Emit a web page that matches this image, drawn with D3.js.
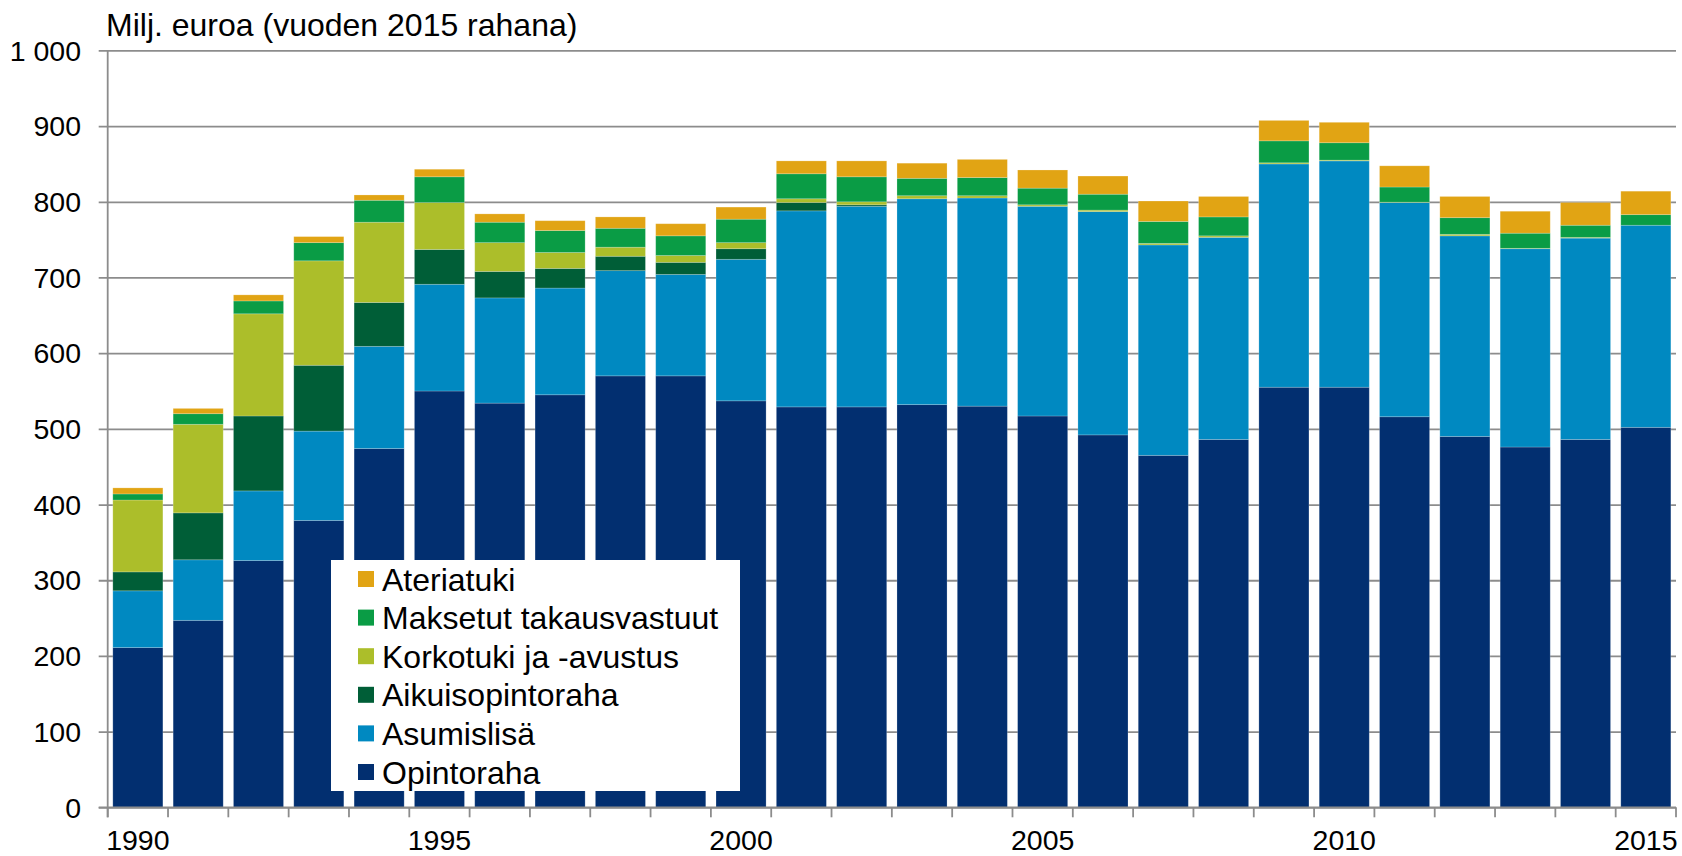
<!DOCTYPE html>
<html>
<head>
<meta charset="utf-8">
<script src="https://cdn.jsdelivr.net/npm/d3@7"></script>
<style>
  html, body { margin: 0; padding: 0; background: #fff; }
  svg { display: block; }
  text { font-family: "Liberation Sans", Arial, sans-serif; fill: #000; }
</style>
</head>
<body>
<svg id="chart" width="1682" height="856"></svg>
<script>
// ---- Data ----
const years = [1990,1991,1992,1993,1994,1995,1996,1997,1998,1999,2000,2001,2002,2003,2004,2005,2006,2007,2008,2009,2010,2011,2012,2013,2014,2015];
const seriesNames = ["Opintoraha","Asumislisä","Aikuisopintoraha","Korkotuki ja -avustus","Maksetut takausvastuut","Ateriatuki"];
const opintoraha   = [211,247,326,379,474,550,534,545,570,570,537,529,529,532,530,517,492,465,486,555,555,516,490,476,486,502];
const asumislisa   = [ 75, 80, 92,118,135,141,139,141,139,134,187,259,265,272,275,277,295,278,267,295,299,283,265,262,266,267];
const aikuisopinto = [ 25, 62, 99, 87, 58, 46, 35, 26, 19, 16, 14, 11,  2,  0,  0,  0,  0,  0,  0,  0,  0,  0,  0,  0,  0,  0];
const korkotuki    = [ 95,117,135,138,106, 62, 38, 21, 12,  9,  8,  5,  4,  4,  3,  2,  2,  2,  2,1.5,  1,0.5,  2,0.5,  1,  0];
const maksetut     = [  8, 14, 17, 24, 29, 34, 27, 29, 25, 26, 31, 33, 33, 23, 24, 22, 21, 29, 25, 29, 23, 20, 22, 20, 16, 14];
const ateriatuki   = [  8,  7,  8,  8,  7, 10, 11, 13, 15, 16, 16, 17, 21, 20, 24, 24, 24, 27, 27, 27, 27, 28, 28, 29, 30, 31];
const yTicks = [0,100,200,300,400,500,600,700,800,900,1000];
const xLabelYears = [1990,1995,2000,2005,2010,2015];
const colors = ["#022F70","#0089C1","#005E37","#ACBE2A","#0A9C45","#E1A414"];
const titleText = "Milj. euroa (vuoden 2015 rahana)";

// ---- Build table ----
const seriesArrays = [opintoraha, asumislisa, aikuisopinto, korkotuki, maksetut, ateriatuki];
const table = years.map((yr, i) => {
  const row = { year: yr };
  seriesNames.forEach((n, k) => row[n] = seriesArrays[k][i]);
  return row;
});
const stacked = d3.stack().keys(seriesNames)(table);

// ---- Layout ----
const svg = d3.select("#chart");
const plotL = 107.7, plotR = 1676, plotT = 50.4, plotB = 807.3;
const gridColor = "#8c8c8c";

const x = d3.scaleBand().domain(years).range([plotL, plotR]).paddingInner(0.17).paddingOuter(0.085);
const y = d3.scaleLinear().domain([0, 1000]).range([plotB, plotT]);

const locale = d3.formatLocale({ decimal: ",", thousands: " ", grouping: [3], currency: ["", " €"] });
const fmt = locale.format(",d");

// gridlines + y ticks
const yAxis = d3.axisLeft(y).tickValues(yTicks).tickSize(-(plotR - plotL)).tickFormat("");
svg.append("g").attr("transform", `translate(${plotL},0)`).call(yAxis)
  .call(g => g.select(".domain").remove())
  .call(g => g.selectAll(".tick line").attr("stroke", gridColor).attr("stroke-width", 1.8).attr("x1", -9));

// bars
svg.append("g").selectAll("g").data(stacked).join("g")
  .attr("fill", (d, i) => colors[i])
  .selectAll("rect").data(d => d).join("rect")
  .attr("x", d => x(d.data.year))
  .attr("width", x.bandwidth())
  .attr("y", d => y(d[1]))
  .attr("height", d => Math.max(0, y(d[0]) - y(d[1])))
  .attr("stroke", "rgba(255,255,255,0.25)")
  .attr("stroke-width", 0.8);

// y axis line
svg.append("line").attr("x1", plotL).attr("x2", plotL).attr("y1", plotT).attr("y2", plotB + 10)
  .attr("stroke", gridColor).attr("stroke-width", 1.8);
// x axis line
svg.append("line").attr("x1", plotL - 9).attr("x2", plotR).attr("y1", plotB).attr("y2", plotB)
  .attr("stroke", gridColor).attr("stroke-width", 1.8);
// x ticks at band boundaries
const boundaries = years.map(yr => x(yr) - x.step() * x.paddingOuter()).concat([plotR]);
svg.append("g").selectAll("line").data(boundaries).join("line")
  .attr("x1", d => d).attr("x2", d => d).attr("y1", plotB).attr("y2", plotB + 10)
  .attr("stroke", gridColor).attr("stroke-width", 1.8);

// y labels
svg.append("g").selectAll("text").data(yTicks).join("text")
  .attr("x", 81).attr("y", d => y(d)).attr("dy", "0.36em")
  .attr("text-anchor", "end").attr("font-size", "28.5px")
  .text(d => fmt(d));

// x labels
svg.append("g").selectAll("text").data(xLabelYears).join("text")
  .attr("x", d => x(d) + x.bandwidth() / 2).attr("y", 850)
  .attr("text-anchor", "middle").attr("font-size", "28.5px")
  .text(d => d);

// title
svg.append("text").attr("x", 106).attr("y", 35.5).attr("font-size", "32px").text(titleText);

// legend
const lg = svg.append("g");
lg.append("rect").attr("x", 331).attr("y", 560).attr("width", 409).attr("height", 231).attr("fill", "#fff");
const legendOrder = seriesNames.map((n, i) => ({ n, c: colors[i] })).reverse();
const items = lg.selectAll("g.item").data(legendOrder).join("g").attr("class", "item")
  .attr("transform", (d, i) => `translate(0,${579 + i * 38.6})`);
items.append("rect").attr("x", 358).attr("y", -8).attr("width", 16).attr("height", 16).attr("fill", d => d.c);
items.append("text").attr("x", 382).attr("y", 0).attr("dy", "0.36em").attr("font-size", "32px").text(d => d.n);
</script>
</body>
</html>
